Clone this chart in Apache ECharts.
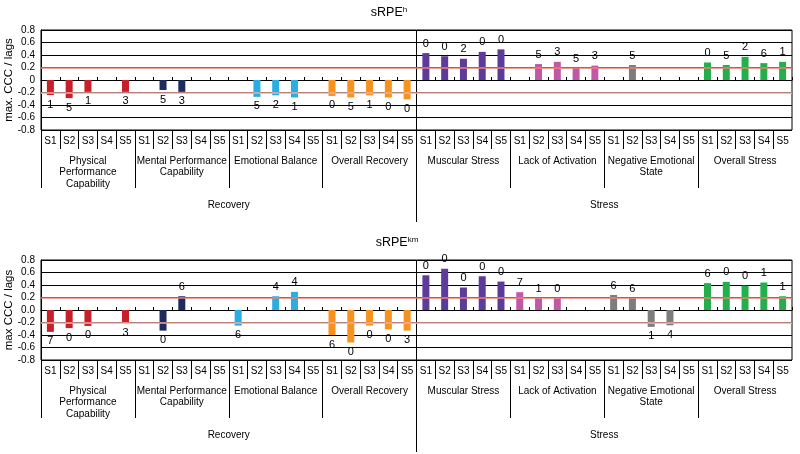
<!DOCTYPE html>
<html>
<head>
<meta charset="utf-8" />
<title>sRPE max CCC / lags</title>
<script src="https://cdn.jsdelivr.net/npm/echarts@6/dist/echarts.min.js"></script>
</head>
<body style="margin:0;background:#fff">
<div id="main" style="width:800px;height:454px"></div>
<script type="text/javascript">
var subjects = ['S1', 'S2', 'S3', 'S4', 'S5'];
var scales = ['Physical\nPerformance\nCapability', 'Mental Performance\nCapability', 'Emotional Balance', 'Overall Recovery',
    'Muscular Stress', 'Lack of Activation', 'Negative Emotional\nState', 'Overall Stress'];
var domains = ['Recovery', 'Stress'];
var scaleColors = ['#c8202b', '#1d2c5c', '#2aade3', '#f7921e', '#5c3b9a', '#c257a8', '#7d7d7d', '#23b04c'];

// max CCC, 5 subjects per scale, null = nothing shown
var cccH = [
    -0.24, -0.29, -0.19, null, -0.19,
    null, -0.16, -0.19, null, null,
    null, -0.27, -0.245, -0.28, null,
    -0.255, -0.28, -0.245, -0.28, -0.31,
    0.43, 0.38, 0.34, 0.45, 0.49,
    null, 0.255, 0.29, 0.19, 0.23,
    null, 0.24, null, null, null,
    0.28, 0.24, 0.37, 0.27, 0.29
];
var lagsH = [
    1, 5, 1, null, 3,
    null, 5, 3, null, null,
    null, 5, 2, 1, null,
    0, 5, 1, 0, 0,
    0, 0, 2, 0, 0,
    null, 5, 3, 5, 3,
    null, 5, null, null, null,
    0, 5, 2, 6, 1
];
var cccKm = [
    -0.35, -0.29, -0.255, null, -0.21,
    null, -0.33, 0.22, null, null,
    -0.25, null, 0.22, 0.29, null,
    -0.40, -0.52, -0.25, -0.31, -0.33,
    0.555, 0.66, 0.36, 0.54, 0.455,
    0.285, 0.19, 0.19, null, null,
    0.24, 0.19, -0.27, -0.245, null,
    0.43, 0.45, 0.39, 0.44, 0.22
];
var lagsKm = [
    7, 0, 0, null, 3,
    null, 0, 6, null, null,
    6, null, 4, 4, null,
    6, 0, 0, 0, 3,
    0, 0, 0, 0, 0,
    7, 1, 0, null, null,
    6, 6, 1, 4, null,
    6, 0, 0, 1, 1
];
var yTicks = [-0.8, 0.8, 0.2];

var font = 'Liberation Sans, Arial, sans-serif';
var nSub = subjects.length;
var nCat = scales.length * nSub;
var cats = [];
scales.forEach(function () {
    subjects.forEach(function (sub) { cats.push(sub); });
});

// separator / label positions on a 0..nCat slot scale
function range(from, to, step) {
    var out = [];
    for (var v = from; v < to; v += step) out.push(v);
    return out;
}
var subjTicks = range(1, nCat, 1);
var subjMid = range(0.5, nCat, 1);
var scaleTicks = range(0, nCat, nSub);
var scaleMid = range(nSub / 2, nCat, nSub);
var half = nCat / domains.length;
var domainTicks = [half];
var domainMid = range(half / 2, nCat, half);

var panels = [
    {title: 'sRPE', sup: 'h', yName: 'max. CCC / lags', ccc: cccH, lags: lagsH, top: 30, tx: 389, ty: 13, zeroFmt: '0'},
    {title: 'sRPE', sup: 'km', yName: 'max CCC / lags', ccc: cccKm, lags: lagsKm, top: 260, tx: 397, ty: 243, zeroFmt: '0.0'}
];

var grids = [], xAxes = [], yAxes = [], series = [], graphics = [];
var black = {color: '#000', width: 1};
var txt = {color: '#000', fontFamily: font};

function slotAxis(g, ticks, tickLen, inside, mids, fmt, margin, extra) {
    return {type: 'value', gridIndex: g, min: 0, max: nCat, position: 'bottom',
        axisLine: {show: false, onZero: false},
        axisTick: {show: true, inside: inside, length: tickLen, customValues: ticks, lineStyle: black},
        axisLabel: mids ? Object.assign({show: true, customValues: mids, margin: margin, formatter: fmt}, txt, extra)
            : {show: false},
        splitLine: {show: false}};
}

panels.forEach(function (p, g) {
    grids.push({left: 41, right: 8, top: p.top, height: 100, outerBoundsMode: 'none',
        show: true, borderColor: '#000', borderWidth: 1});

    var base = xAxes.length;
    // zero line with small ticks between subjects (bars live here)
    xAxes.push({type: 'category', gridIndex: g, data: cats, position: 'bottom',
        axisLine: {show: true, onZero: true, lineStyle: black},
        axisTick: {show: true, inside: true, length: 3, interval: 0, lineStyle: black},
        axisLabel: {show: false}, splitLine: {show: false}});
    // subject row
    xAxes.push(slotAxis(g, subjTicks, 19, false, subjMid,
        function (v) { return cats[Math.floor(v)]; }, 6, {fontSize: 10}));
    // scale row
    xAxes.push(slotAxis(g, scaleTicks, 58, false, scaleMid,
        function (v) { return scales[Math.floor(v / nSub)]; }, 25, {fontSize: 10, lineHeight: 11.5}));
    // domain row
    xAxes.push(slotAxis(g, domainTicks, 92, false, domainMid,
        function (v) { return domains[Math.floor(v / half)]; }, 70, {fontSize: 10}));
    // domain divider inside the plot
    xAxes.push(slotAxis(g, domainTicks, 100, true, null));

    yAxes.push({type: 'value', gridIndex: g, min: yTicks[0], max: yTicks[1], interval: yTicks[2],
        name: p.yName, nameLocation: 'middle', nameRotate: 90, nameGap: 26, nameMoveOverlap: false,
        nameTextStyle: Object.assign({fontSize: 11.5}, txt),
        axisLine: {show: true, lineStyle: black}, axisTick: {show: false},
        axisLabel: Object.assign({fontSize: 10, margin: 6,
            formatter: function (v) { return Math.abs(v) < 1e-9 ? p.zeroFmt : v.toFixed(1); }}, txt),
        splitLine: {show: true, lineStyle: black}});

    var data = p.ccc.map(function (v, i) {
        if (v === null) return '-';
        return {value: v, itemStyle: {color: scaleColors[Math.floor(i / nSub)]},
            label: {position: v < 0 ? 'bottom' : 'top'}};
    });
    series.push({type: 'bar', xAxisIndex: base, yAxisIndex: g, data: data, barWidth: 7,
        label: Object.assign({show: true, fontSize: 11, distance: 4,
            formatter: function (d) { var l = p.lags[d.dataIndex]; return l === null ? '' : String(l); }}, txt),
        markLine: {silent: true, symbol: ['none', 'none'], label: {show: false},
            data: [
                {yAxis: 0.2, lineStyle: {color: '#ef7f72', width: 1.5, type: 'solid'}},
                {yAxis: -0.2, lineStyle: {color: '#f4aba2', width: 1.5, type: 'solid'}}
            ]}});

    graphics.push({type: 'text', x: p.tx, y: p.ty, style: {
        text: '{a|' + p.title + '}{b|' + p.sup + '}', align: 'center', verticalAlign: 'middle',
        rich: {a: {fontSize: 12.5, fontFamily: font, fill: '#000', lineHeight: 15},
            b: {fontSize: 8, fontFamily: font, fill: '#000', verticalAlign: 'top'}}}});
});

var myChart = echarts.init(document.getElementById('main'));
myChart.setOption({
    backgroundColor: '#fff',
    animation: false,
    grid: grids,
    xAxis: xAxes,
    yAxis: yAxes,
    series: series,
    graphic: graphics
});
</script>
</body>
</html>
